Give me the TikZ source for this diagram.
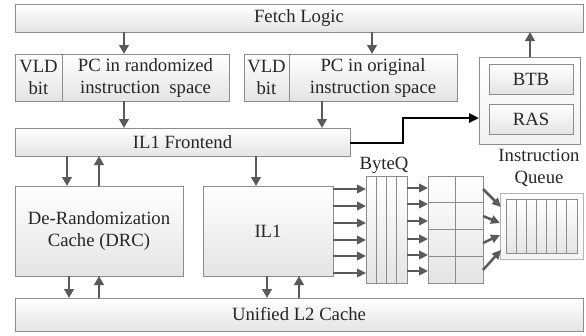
\documentclass[tikz,border=0pt]{standalone}
\usepackage{fontspec}
\setmainfont{Liberation Serif}
\usetikzlibrary{arrows.meta,calc}
\definecolor{edge}{HTML}{8C8C8C}
\definecolor{softedge}{HTML}{B4B4B4}
\definecolor{wire}{HTML}{5A5A5A}
\definecolor{ink}{HTML}{262626}
\definecolor{shade}{HTML}{E4E4E4}
\tikzset{
  blk/.style={draw=edge, line width=1pt, top color=white, bottom color=shade,
    anchor=north west, inner sep=0pt, outer sep=0pt, align=center, text=ink,
    font=\fontsize{18.7}{22}\selectfont},
  lbl/.style={text=ink, align=center, inner sep=0pt, font=\fontsize{18.7}{22}\selectfont},
  cell/.style={draw=edge, line width=1pt},
  wirearrow/.style={draw=wire, line width=2.7pt, -{Triangle[length=9pt,width=9.5pt]}},
  busarrow/.style={draw=wire, line width=2.5pt, -{Triangle[length=9pt,width=8.5pt]}},
  branch/.style={draw=black, line width=2.7pt, line join=miter, -{Triangle[length=10pt,width=9pt]}}
}
\begin{document}
\begin{tikzpicture}[x=1pt,y=-1pt]
\useasboundingbox (0,0) rectangle (586,335);

% main blocks
\node[blk, minimum width=568pt, minimum height=28pt] (fetch) at (15,4) {Fetch Logic};
\node[blk, minimum width=47pt, minimum height=47pt] (vldA) at (15,54) {VLD\\bit};
\node[blk, minimum width=167pt, minimum height=47pt] (pcA) at (62,54) {PC in randomized\\instruction\ \ space};
\node[blk, minimum width=45pt, minimum height=47pt] (vldB) at (244,54) {VLD\\bit};
\node[blk, minimum width=168pt, minimum height=47pt] (pcB) at (289,54) {PC in original\\instruction space};
\node[blk, minimum width=335pt, minimum height=28pt] (fe) at (15,128) {IL1 Frontend};

% branch predictor
\node[blk, top color=white, bottom color=white!50!shade, minimum width=101pt, minimum height=87pt] (pred) at (479,57) {};
\node[blk, minimum width=84pt, minimum height=30pt] (btb) at (489,64) {BTB};
\node[blk, minimum width=84pt, minimum height=30pt] (ras) at (489,104) {RAS};

\node[blk, minimum width=168pt, minimum height=90pt] (drc) at (15,186) {De-Randomization\\Cache (DRC)};
\node[blk, minimum width=130pt, minimum height=90pt] (il1) at (203,186) {IL1};
\node[blk, minimum width=568pt, minimum height=33pt] (l2) at (15,298) {Unified L2 Cache};

% byte queue with four columns
\node[blk, minimum width=41pt, minimum height=107pt] (byteq) at (366,176) {};
\foreach \i in {1,2,3}
  \draw[cell] ($(byteq.north west)!\i/4!(byteq.north east)$) -- ($(byteq.south west)!\i/4!(byteq.south east)$);
\node[lbl] (bqlabel) at (384,165) {ByteQ};

% decode grid, two columns by four rows
\node[blk, minimum width=55pt, minimum height=107pt] (grid) at (428,176) {};
\draw[cell] (grid.north) -- (grid.south);
\foreach \i in {1,2,3}
  \draw[cell] ($(grid.north west)!\i/4!(grid.south west)$) -- ($(grid.north east)!\i/4!(grid.south east)$);

% instruction queue
\node[blk, draw=softedge, top color=white, bottom color=white!60!shade, minimum width=83pt, minimum height=66pt] (iqo) at (500,193) {};
\node[blk, minimum width=71pt, minimum height=54pt] (iq) at (506,199) {};
\foreach \i in {1,...,6}
  \draw[cell] ($(iq.north west)!\i/7!(iq.north east)$) -- ($(iq.south west)!\i/7!(iq.south east)$);
\node[lbl] (iqlabel) at (539,168) {Instruction\\Queue};

% column positions of the vertical links
\coordinate (xA) at (124,0);
\coordinate (xB) at (372,0);
\coordinate (xC) at (322,0);
\coordinate (xD) at (530,0);
\coordinate (xE) at (67,0);
\coordinate (xF) at (99,0);
\coordinate (xG) at (256,0);
\coordinate (xH) at (69,0);
\coordinate (xI) at (267,0);
\coordinate (xJ) at (299,0);

\draw[wirearrow] (fetch.south -| xA) -- (pcA.north -| xA);
\draw[wirearrow] (fetch.south -| xB) -- (pcB.north -| xB);
\draw[wirearrow] (pcA.south -| xA) -- (fe.north -| xA);
\draw[wirearrow] (pcB.south -| xC) -- (fe.north -| xC);
\draw[wirearrow] (pred.north -| xD) -- (fetch.south -| xD);
\draw[wirearrow] (fe.south -| xE) -- (drc.north -| xE);
\draw[wirearrow] (drc.north -| xF) -- (fe.south -| xF);
\draw[wirearrow] (fe.south -| xG) -- (il1.north -| xG);
\draw[wirearrow] (drc.south -| xH) -- (l2.north -| xH);
\draw[wirearrow] (l2.north -| xF) -- (drc.south -| xF);
\draw[wirearrow] (il1.south -| xI) -- (l2.north -| xI);
\draw[wirearrow] (l2.north -| xJ) -- (il1.south -| xJ);

% frontend to branch predictor
\coordinate (yK) at (0,143);
\coordinate (jog) at (403,118);
\draw[branch] (fe.east |- yK) -| (jog) -- (pred.west |- jog);

% IL1 to ByteQ
\foreach \y in {189,206,223,240,256,273} {
  \coordinate (r) at (0,\y);
  \draw[busarrow] (il1.east |- r) -- (byteq.west |- r);
}
% ByteQ to decode grid
\foreach \y in {188,204,221,239,255,271} {
  \coordinate (r) at (0,\y);
  \draw[busarrow] (byteq.east |- r) -- (grid.west |- r);
}
% decode grid to instruction queue
\coordinate (tA) at (501,207);
\coordinate (tB) at (500,223);
\coordinate (tC) at (500,235);
\coordinate (tD) at (501,250);
\coordinate (sA) at (0,189);
\coordinate (sB) at (0,216);
\coordinate (sC) at (0,243);
\coordinate (sD) at (0,270);
\draw[busarrow] (grid.east |- sA) -- (tA);
\draw[busarrow] (grid.east |- sB) -- (tB);
\draw[busarrow] (grid.east |- sC) -- (tC);
\draw[busarrow] (grid.east |- sD) -- (tD);
\end{tikzpicture}
\end{document}
